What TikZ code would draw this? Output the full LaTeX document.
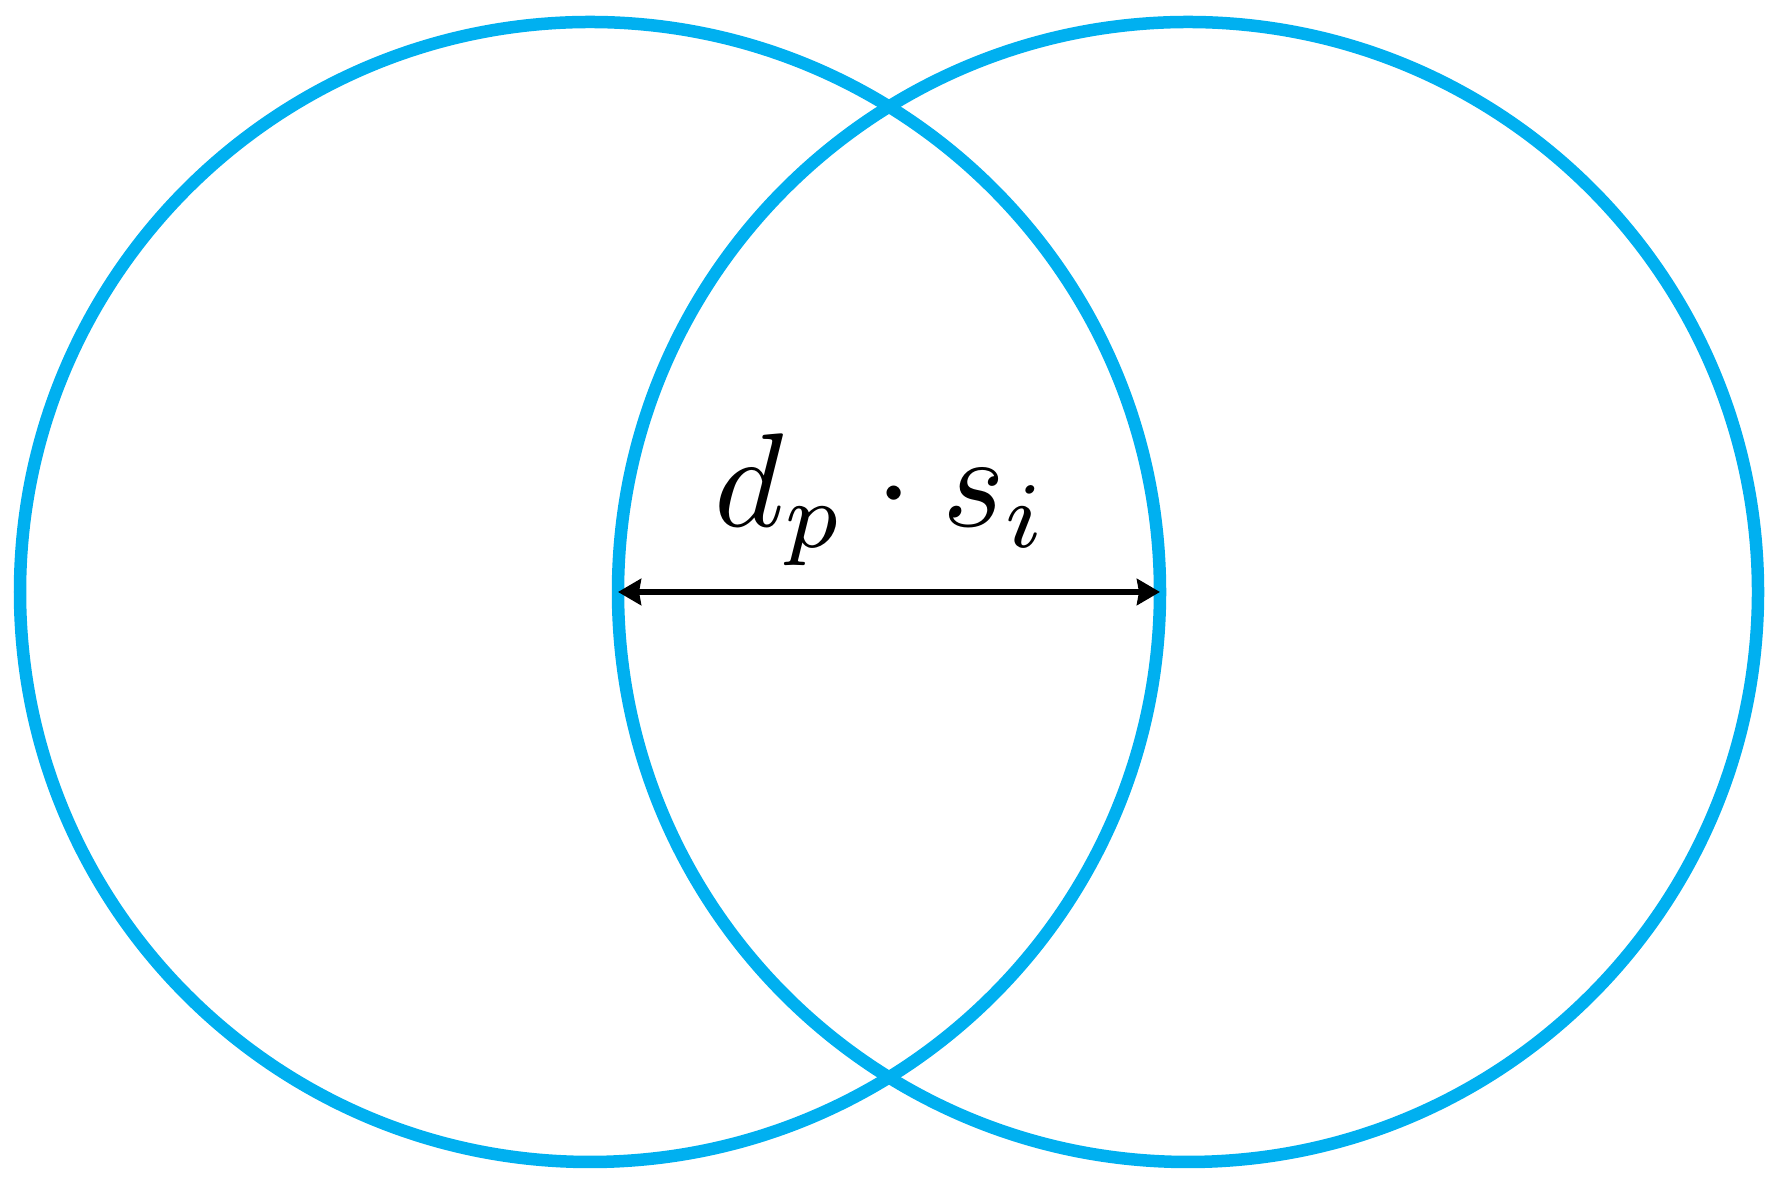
\documentclass[tikz,border=0pt]{standalone}
\usepackage{amsmath, amssymb}
\usepackage{graphicx}
\usepackage{tikz}
\usepackage{xcolor}
\usetikzlibrary{arrows.meta}
\definecolor{ringblue}{HTML}{00B0F0}

\begin{document}
\begin{tikzpicture}[
  ring/.style={circle, draw=ringblue, line width=0.125cm, minimum size=11.4cm, inner sep=0pt, outer sep=0pt},
  gap/.style={{Stealth[length=0.23cm,width=0.26cm,inset=0.02cm]}-{Stealth[length=0.23cm,width=0.26cm,inset=0.02cm]}, line width=0.065cm}
]
\useasboundingbox (0,0) rectangle (17.81,11.84);
%% rings
\node [ring] (lring) at (5.90,5.92) {};
\node [ring] (rring) at (11.88,5.92) {};
%% overlap
\draw [gap] (rring.west) -- (lring.east);
\node [anchor=base, inner sep=0pt] (lbl) at (8.82,6.57) {\scalebox{3.8}{$d_p\cdot s_i$}};
\end{tikzpicture}
\end{document}
